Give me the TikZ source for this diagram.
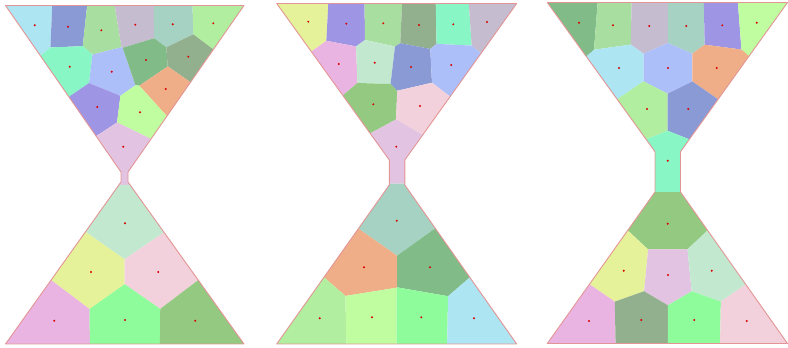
\documentclass[tikz,border=0pt]{standalone}
\usetikzlibrary{calc}
\definecolor{vsky}{HTML}{ADE5F2}
\definecolor{vsteel}{HTML}{8A9AD5}
\definecolor{vsage}{HTML}{A8DFA0}
\definecolor{vmauve}{HTML}{C5BCD0}
\definecolor{vteal}{HTML}{A6D2C3}
\definecolor{vlime}{HTML}{B2EEA0}
\definecolor{vaqua}{HTML}{88F6C5}
\definecolor{vperi}{HTML}{ADBFF8}
\definecolor{vgreen}{HTML}{80BB88}
\definecolor{volive}{HTML}{92B08E}
\definecolor{vsalmon}{HTML}{F0AE88}
\definecolor{vpurple}{HTML}{9F95E5}
\definecolor{vpale}{HTML}{C0FCA0}
\definecolor{vlilac}{HTML}{E2C4E2}
\definecolor{vmint}{HTML}{C2E9D0}
\definecolor{vyellow}{HTML}{E5F29A}
\definecolor{vpink}{HTML}{F3D1DC}
\definecolor{vorchid}{HTML}{EAB4E2}
\definecolor{vbright}{HTML}{8FFC9B}
\definecolor{vleaf}{HTML}{94C982}
\definecolor{glassline}{HTML}{E39595}
\tikzset{
  glass/.style={draw=glassline, line width=0.9pt, line join=round},
  site/.style={fill=red!85!black},
}
% corners of one hourglass: name, left, right, top, bottom, neck left, neck right, neck top, neck bottom
\newcommand{\GlassFrame}[9]{%
  \coordinate (#1tl) at (#2,#4); \coordinate (#1tr) at (#3,#4);
  \coordinate (#1bl) at (#2,#5); \coordinate (#1br) at (#3,#5);
  \coordinate (#1ntl) at (#6,#8); \coordinate (#1ntr) at (#7,#8);
  \coordinate (#1nbl) at (#6,#9); \coordinate (#1nbr) at (#7,#9);
}
\newcommand{\GlassPath}[1]{(#1tl) -- (#1tr) -- (#1ntr) -- (#1nbr) -- (#1br) -- (#1bl) -- (#1nbl) -- (#1ntl) -- cycle}
% one voronoi cell: glass, site, colour, all sites of that glass
\newcommand{\VorCell}[4]{%
  \begin{scope}
    \clip (#1tl) -- (#1tr) -- (#1ntr) -- (#1nbr) -- (#1br) -- (#1bl) -- (#1nbl) -- (#1ntl) -- cycle;
    \gdef\halfplanes{}%
    \foreach \o/\ox/\oy/\oc in #4 {%
      \edef\tmpa{\o}\edef\tmpb{#2}%
      \ifx\tmpa\tmpb\else
        \xdef\halfplanes{\unexpanded\expandafter{\halfplanes}%
          \noexpand\coordinate (hm) at ($(#2)!0.5!(\o)$);
          \noexpand\clip ($(hm)!1500pt!90:(#2)$) -- ($(hm)!1500pt!-90:(#2)$) -- ($(hm)!3000pt!(#2)$) -- cycle;}%
      \fi
    }%
    \halfplanes
    \fill[fill=#3] (#1tl) rectangle (#1br);
  \end{scope}
}
\def\glassI{a1/34.7/25.3/vsky, a2/68/26.7/vsteel, a3/101.3/30.3/vsage, a4/135.3/24.7/vmauve,
  a5/172.7/24.3/vteal, a6/213.3/23.3/vlime, a7/69.7/66.7/vaqua, a8/111.7/71.7/vperi,
  a9/146/60/vgreen, a10/188.3/56.7/volive, a11/165.7/89/vsalmon, a12/97.3/107/vpurple,
  a13/140/112.3/vpale, a14/123.3/146.7/vlilac, b1/125/223.3/vmint, b2/91/272/vyellow,
  b3/158.3/272/vpink, b4/54.3/320.7/vorchid, b5/125/320/vbright, b6/195.3/320.7/vleaf}
\def\glassII{c1/308.3/21.7/vyellow, c2/346.3/23.7/vpurple, c3/383.3/23.3/vsage, c4/419/25/volive,
  c5/453.3/24.3/vaqua, c6/487/22/vmauve, c7/338.7/64/vorchid, c8/374.7/62.7/vmint,
  c9/411/67/vsteel, c10/451.3/65/vperi, c11/373.3/104.3/vleaf, c12/420/106/vpink,
  c13/396.3/146.7/vlilac, d1/396.7/220.7/vteal, d2/364/267.3/vsalmon, d3/430/267.3/vgreen,
  d4/319.7/318.3/vlime, d5/372/317.3/vpale, d6/421.3/317.3/vbright, d7/474/318.3/vsky}
\def\glassIII{e1/579/22.7/vgreen, e2/613/25.3/vsage, e3/649.3/26/vmauve, e4/686.3/26/vteal,
  e5/722.3/25.3/vpurple, e6/756.7/22.7/vpale, e7/619/68/vsky, e8/668/68/vperi,
  e9/716.7/68/vsalmon, e10/647/109/vlime, e11/688.3/109/vsteel, e12/667.7/160.7/vaqua,
  f1/667.7/223.7/vleaf, f2/623.7/270.7/vyellow, f3/668/275/vlilac, f4/711.7/270.7/vmint,
  f5/589/321/vorchid, f6/641.3/320/volive, f7/694.3/320/vbright, f8/746.7/321/vpink}

\begin{document}
\begin{tikzpicture}[x=1pt, y=-1pt]
  \useasboundingbox (0,0) rectangle (788,348);
  \GlassFrame{g1}{5.5}{244}{5.5}{344}{121}{128}{172}{182}
  \GlassFrame{g2}{276.7}{516.7}{3.5}{344}{389.3}{404.8}{160}{185}
  \GlassFrame{g3}{547.3}{787.5}{2.5}{343.5}{655}{680.5}{151.7}{192}
  % sites
  \foreach \n/\x/\y/\col in \glassI {\coordinate (\n) at (\x,\y);}
  \foreach \n/\x/\y/\col in \glassII {\coordinate (\n) at (\x,\y);}
  \foreach \n/\x/\y/\col in \glassIII {\coordinate (\n) at (\x,\y);}
  % cells
  \foreach \n/\x/\y/\col in \glassI {\VorCell{g1}{\n}{\col}{\glassI}}
  \foreach \n/\x/\y/\col in \glassII {\VorCell{g2}{\n}{\col}{\glassII}}
  \foreach \n/\x/\y/\col in \glassIII {\VorCell{g3}{\n}{\col}{\glassIII}}
  % outlines
  \draw[glass] \GlassPath{g1};
  \draw[glass] \GlassPath{g2};
  \draw[glass] \GlassPath{g3};
  \foreach \n/\x/\y/\col in \glassI {\fill[site] (\n) circle (1.1);}
  \foreach \n/\x/\y/\col in \glassII {\fill[site] (\n) circle (1.1);}
  \foreach \n/\x/\y/\col in \glassIII {\fill[site] (\n) circle (1.1);}
\end{tikzpicture}
\end{document}
